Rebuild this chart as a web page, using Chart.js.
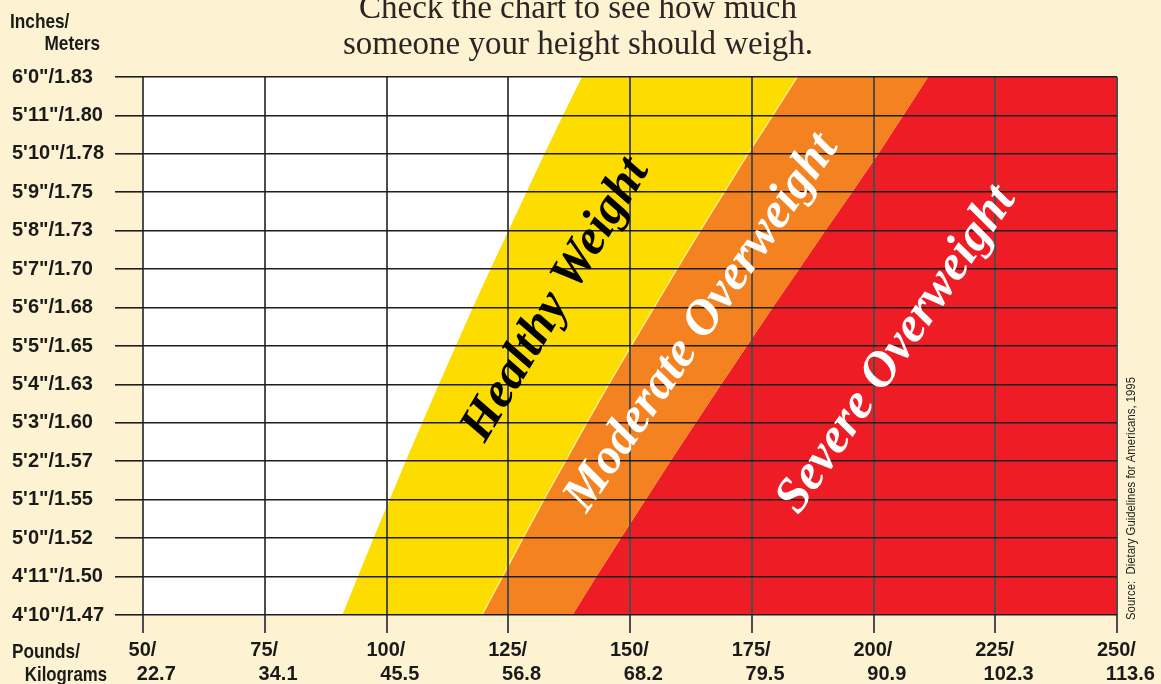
<!DOCTYPE html>
<html>
<head>
<meta charset="utf-8">
<script src="https://cdn.jsdelivr.net/npm/chart.js@4.4.1/dist/chart.umd.min.js"></script>
<style>
  html, body { margin: 0; padding: 0; background: #fdf3d2; }
  #wrap { width: 1161px; height: 684px; }
</style>
</head>
<body>
<div id="wrap"><canvas id="weightChart" width="1161" height="684"></canvas></div>
<script>
// heights in inches, 4'10" to 6'0"
const heights = [58, 59, 60, 61, 62, 63, 64, 65, 66, 67, 68, 69, 70, 71, 72];
const heightLabels = [
    "4'10\"/1.47", "4'11\"/1.50", "5'0\"/1.52", "5'1\"/1.55", "5'2\"/1.57",
    "5'3\"/1.60", "5'4\"/1.63", "5'5\"/1.65", "5'6\"/1.68", "5'7\"/1.70",
    "5'8\"/1.73", "5'9\"/1.75", "5'10\"/1.78", "5'11\"/1.80", "6'0\"/1.83",
];
// weight boundaries in pounds, one per height
const healthyMin = [90.9, 94.1, 97.3, 100.6, 103.9, 107.3, 110.7, 114.2, 117.7, 121.3, 125.0, 128.7, 132.4, 136.2, 140.1];
const healthyMax = [119.6, 123.8, 128.0, 132.3, 136.7, 141.1, 145.6, 150.2, 154.9, 159.6, 164.4, 169.3, 174.2, 179.3, 184.3];
const moderateMax = [138.2, 143.1, 148.1, 153.2, 158.3, 163.5, 168.7, 174.0, 179.3, 184.7, 190.1, 195.6, 201.0, 206.1, 211.2];

const poundTicks = [50, 75, 100, 125, 150, 175, 200, 225, 250];
const kiloTicks = ["22.7", "34.1", "45.5", "56.8", "68.2", "79.5", "90.9", "102.3", "113.6"];

const titleLines = ["Check the chart to see how much", "someone your height should weigh."];

const bandLabels = [
    { text: "Healthy Weight", lb: 134.8, inch: 66.2, angle: 59, color: "#000000" },
    { text: "Moderate Overweight", lb: 164.8, inch: 65.6, angle: 55.5, color: "#ffffff" },
    { text: "Severe Overweight", lb: 204.8, inch: 64.9, angle: 55.5, color: "#ffffff" },
];

const pts = (arr) => heights.map((h, i) => ({ x: arr[i], y: h }));

// draws condensed text by squeezing it horizontally
function narrowText(ctx, text, x, y, align, squeeze) {
    ctx.save();
    ctx.translate(x, y);
    ctx.scale(squeeze, 1);
    ctx.textAlign = align;
    ctx.fillText(text, 0, 0);
    ctx.restore();
}

const annotations = {
    id: "annotations",
    afterDraw(chart) {
        const { ctx, scales } = chart;
        const x = scales.x, y = scales.y;

        // title
        ctx.save();
        ctx.fillStyle = "#2b2523";
        ctx.font = "33px 'Liberation Serif', serif";
        ctx.textAlign = "center";
        ctx.textBaseline = "alphabetic";
        ctx.fillText(titleLines[0], 578, 18);
        ctx.fillText(titleLines[1], 578, 54);
        ctx.restore();

        bandLabels.forEach((b) => {
            ctx.save();
            ctx.translate(x.getPixelForValue(b.lb), y.getPixelForValue(b.inch));
            ctx.rotate((-b.angle * Math.PI) / 180);
            ctx.font = "italic bold 50px 'Liberation Serif', serif";
            ctx.fillStyle = b.color;
            ctx.textAlign = "center";
            ctx.textBaseline = "middle";
            ctx.fillText(b.text, 0, 0);
            ctx.restore();
        });

        // axis captions
        ctx.save();
        ctx.fillStyle = "#1a1a1a";
        ctx.font = "bold 21px 'Liberation Sans', sans-serif";
        ctx.textBaseline = "alphabetic";
        narrowText(ctx, "Inches/", 10, 28, "left", 0.82);
        narrowText(ctx, "Meters", 100, 50, "right", 0.82);
        narrowText(ctx, "Pounds/", 12, 658, "left", 0.82);
        narrowText(ctx, "Kilograms", 107, 681, "right", 0.8);
        ctx.restore();

        // source note, vertical on the right
        const src = "Source:  Dietary Guidelines for Americans, 1995";
        ctx.save();
        ctx.font = "13px 'Liberation Sans', sans-serif";
        ctx.fillStyle = "#222222";
        ctx.textBaseline = "middle";
        const w = ctx.measureText(src).width;
        ctx.translate(1131, 620);
        ctx.rotate(-Math.PI / 2);
        narrowText(ctx, src, 0, 0, "left", 243 / w);
        ctx.restore();
    },
};

const ctx = document.getElementById("weightChart").getContext("2d");

const chart = new Chart(ctx, {
    type: "line",
    data: {
        datasets: [
            {
                label: "Under",
                data: pts(healthyMin),
                borderColor: "rgba(0,0,0,0)",
                backgroundColor: "#ffffff",
                pointRadius: 0,
                fill: { value: 50 },
            },
            {
                label: "Healthy Weight",
                data: pts(healthyMax),
                borderColor: "#ffea7a",
                borderWidth: 1.5,
                backgroundColor: "#fddc00",
                pointRadius: 0,
                fill: "-1",
            },
            {
                label: "Moderate Overweight",
                data: pts(moderateMax),
                borderColor: "rgba(0,0,0,0)",
                backgroundColor: "#f58220",
                pointRadius: 0,
                fill: "-1",
            },
            {
                label: "Severe Overweight",
                data: pts(moderateMax),
                borderColor: "rgba(0,0,0,0)",
                backgroundColor: "#ee1c25",
                pointRadius: 0,
                fill: { value: 250 },
            },
        ],
    },
    options: {
        indexAxis: "y",
        responsive: false,
        animation: false,
        events: [],
        layout: { padding: { left: 12, right: 44, top: 77, bottom: 0 } },
        plugins: {
            legend: { display: false },
            tooltip: { enabled: false },
        },
        scales: {
            x: {
                type: "linear",
                position: "bottom",
                min: 50,
                max: 250,
                afterFit: (s) => { s.height = 69; },
                grid: { color: "#4d4d4d", lineWidth: 2, tickLength: 18, z: 1 },
                border: { display: false },
                ticks: {
                    stepSize: 25,
                    autoSkip: false,
                    maxRotation: 0,
                    padding: 5,
                    labelOffset: 5,
                    color: "#1a1a1a",
                    font: { family: "'Liberation Sans', sans-serif", size: 20, weight: "bold", lineHeight: 1.2 },
                    callback: (v) => {
                        const i = poundTicks.indexOf(v);
                        return i < 0 ? "" : [v + "/  ", "   " + kiloTicks[i]];
                    },
                },
            },
            y: {
                type: "linear",
                position: "left",
                min: 58,
                max: 72,
                afterFit: (s) => { s.width = 131; },
                grid: { color: "#1e1e1e", lineWidth: 1.6, tickLength: 28, z: 1 },
                border: { display: false },
                ticks: {
                    stepSize: 1,
                    autoSkip: false,
                    crossAlign: "far",
                    color: "#1a1a1a",
                    font: { family: "'Liberation Sans', sans-serif", size: 20, weight: "bold" },
                    callback: (v) => heightLabels[heights.indexOf(v)],
                },
            },
        },
    },
    plugins: [annotations],
});
</script>
</body>
</html>
